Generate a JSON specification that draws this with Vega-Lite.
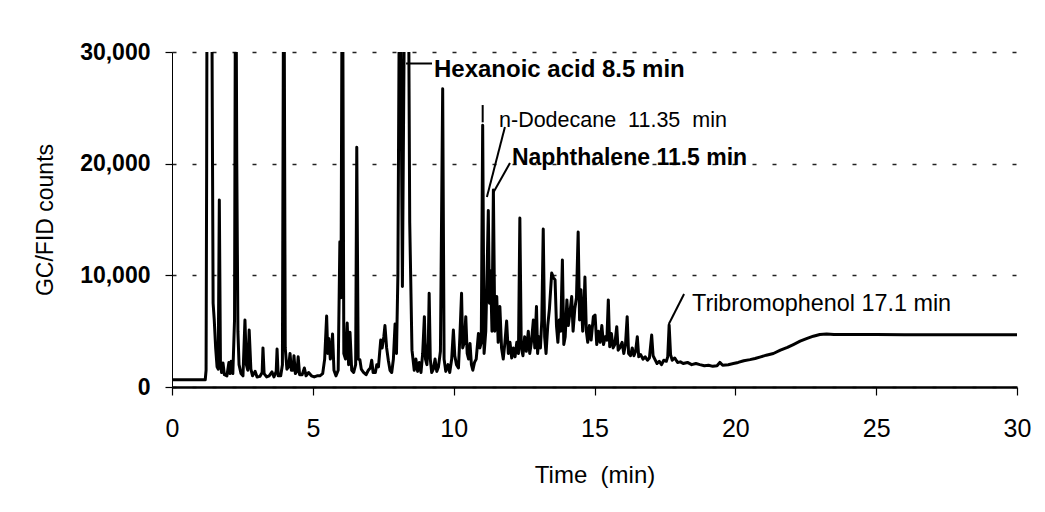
{
  "$schema": "https://vega.github.io/schema/vega-lite/v6.json",
  "width": 845,
  "height": 335,
  "autosize": {"type": "none"},
  "padding": {"left": 172, "top": 52, "right": 28, "bottom": 125},
  "background": "white",
  "config": {"view": {"stroke": null}, "font": "Liberation Sans"},
  "datasets": {
    "gc": [
      {"t":0,"c":650},{"t":1.18,"c":650},{"t":1.21,"c":1500},{"t":1.23,"c":19600},{"t":1.25,"c":45000},{"t":1.30,"c":36000},{"t":1.35,"c":45000},{"t":1.40,"c":45000},{"t":1.43,"c":25000},{"t":1.46,"c":7500},{"t":1.50,"c":6000},{"t":1.55,"c":3500},{"t":1.60,"c":1800},{"t":1.64,"c":1600},{"t":1.68,"c":16740},{"t":1.72,"c":2200},{"t":1.76,"c":1300},{"t":1.81,"c":2150},{"t":1.86,"c":1100},{"t":1.95,"c":1000},{"t":2.02,"c":2200},{"t":2.06,"c":1200},{"t":2.10,"c":2300},{"t":2.16,"c":1200},{"t":2.22,"c":6000},{"t":2.26,"c":45000},{"t":2.30,"c":20000},{"t":2.34,"c":5000},{"t":2.38,"c":2000},{"t":2.45,"c":1200},{"t":2.52,"c":1000},{"t":2.59,"c":6000},{"t":2.64,"c":2000},{"t":2.69,"c":1500},{"t":2.74,"c":5100},{"t":2.80,"c":1600},{"t":2.86,"c":1000},{"t":2.95,"c":1400},{"t":3.02,"c":900},{"t":3.12,"c":950},{"t":3.20,"c":1300},{"t":3.23,"c":3500},{"t":3.27,"c":1200},{"t":3.36,"c":900},{"t":3.45,"c":1000},{"t":3.55,"c":1350},{"t":3.62,"c":900},{"t":3.70,"c":1400},{"t":3.73,"c":3400},{"t":3.77,"c":1000},{"t":3.86,"c":1000},{"t":3.92,"c":2000},{"t":3.97,"c":45000},{"t":4.02,"c":3500},{"t":4.08,"c":1600},{"t":4.14,"c":1800},{"t":4.19,"c":3000},{"t":4.24,"c":1500},{"t":4.30,"c":1500},{"t":4.33,"c":2800},{"t":4.38,"c":1200},{"t":4.44,"c":1400},{"t":4.48,"c":2700},{"t":4.53,"c":1100},{"t":4.62,"c":1100},{"t":4.70,"c":1700},{"t":4.76,"c":1000},{"t":4.85,"c":1300},{"t":4.95,"c":1000},{"t":5.05,"c":900},{"t":5.15,"c":1000},{"t":5.25,"c":1000},{"t":5.35,"c":1200},{"t":5.42,"c":2500},{"t":5.49,"c":6350},{"t":5.53,"c":3000},{"t":5.57,"c":4350},{"t":5.62,"c":2500},{"t":5.66,"c":3000},{"t":5.70,"c":4750},{"t":5.75,"c":1500},{"t":5.82,"c":1000},{"t":5.90,"c":1500},{"t":5.96,"c":13000},{"t":6.00,"c":8000},{"t":6.05,"c":45000},{"t":6.10,"c":3000},{"t":6.16,"c":2500},{"t":6.22,"c":5730},{"t":6.27,"c":2000},{"t":6.32,"c":4900},{"t":6.38,"c":1500},{"t":6.45,"c":1300},{"t":6.52,"c":2000},{"t":6.56,"c":21480},{"t":6.61,"c":2500},{"t":6.67,"c":2450},{"t":6.72,"c":1600},{"t":6.80,"c":1300},{"t":6.89,"c":1100},{"t":6.97,"c":1500},{"t":7.04,"c":1700},{"t":7.09,"c":2400},{"t":7.14,"c":1300},{"t":7.22,"c":1300},{"t":7.27,"c":2000},{"t":7.33,"c":1800},{"t":7.41,"c":4200},{"t":7.46,"c":3500},{"t":7.52,"c":4500},{"t":7.56,"c":5500},{"t":7.62,"c":3500},{"t":7.68,"c":2400},{"t":7.74,"c":1500},{"t":7.80,"c":1300},{"t":7.86,"c":2500},{"t":7.92,"c":5650},{"t":7.97,"c":3000},{"t":8.02,"c":10000},{"t":8.09,"c":45000},{"t":8.18,"c":9000},{"t":8.28,"c":45000},{"t":8.38,"c":45000},{"t":8.44,"c":14700},{"t":8.52,"c":3300},{"t":8.60,"c":1500},{"t":8.66,"c":2500},{"t":8.72,"c":1400},{"t":8.78,"c":2200},{"t":8.84,"c":1300},{"t":8.90,"c":3000},{"t":8.96,"c":6300},{"t":9.00,"c":2500},{"t":9.05,"c":2000},{"t":9.10,"c":4000},{"t":9.13,"c":8400},{"t":9.17,"c":2500},{"t":9.22,"c":1300},{"t":9.28,"c":1600},{"t":9.34,"c":2500},{"t":9.40,"c":1400},{"t":9.46,"c":1800},{"t":9.53,"c":3200},{"t":9.61,"c":26700},{"t":9.66,"c":2500},{"t":9.72,"c":1400},{"t":9.80,"c":2000},{"t":9.86,"c":1300},{"t":9.93,"c":2500},{"t":9.99,"c":5100},{"t":10.04,"c":2800},{"t":10.10,"c":2000},{"t":10.17,"c":1700},{"t":10.22,"c":4500},{"t":10.28,"c":8400},{"t":10.32,"c":3500},{"t":10.38,"c":4000},{"t":10.43,"c":6300},{"t":10.48,"c":3000},{"t":10.53,"c":2500},{"t":10.58,"c":3900},{"t":10.63,"c":2000},{"t":10.68,"c":1500},{"t":10.74,"c":2200},{"t":10.80,"c":2500},{"t":10.88,"c":4800},{"t":10.93,"c":3500},{"t":10.98,"c":4000},{"t":11.03,"c":23450},{"t":11.08,"c":3000},{"t":11.14,"c":5000},{"t":11.19,"c":10700},{"t":11.23,"c":15800},{"t":11.27,"c":7500},{"t":11.31,"c":10400},{"t":11.36,"c":5000},{"t":11.41,"c":17640},{"t":11.46,"c":5000},{"t":11.50,"c":6500},{"t":11.53,"c":8100},{"t":11.58,"c":4000},{"t":11.64,"c":7200},{"t":11.70,"c":3500},{"t":11.76,"c":2500},{"t":11.82,"c":4000},{"t":11.88,"c":5900},{"t":11.94,"c":3000},{"t":12.00,"c":4000},{"t":12.06,"c":2600},{"t":12.12,"c":3500},{"t":12.18,"c":2700},{"t":12.24,"c":4000},{"t":12.30,"c":3000},{"t":12.35,"c":15130},{"t":12.40,"c":3500},{"t":12.46,"c":2800},{"t":12.52,"c":4500},{"t":12.58,"c":3200},{"t":12.65,"c":5000},{"t":12.70,"c":3000},{"t":12.76,"c":4000},{"t":12.83,"c":6000},{"t":12.88,"c":3500},{"t":12.94,"c":7200},{"t":12.98,"c":3000},{"t":13.03,"c":4500},{"t":13.08,"c":3500},{"t":13.13,"c":6000},{"t":13.18,"c":14140},{"t":13.23,"c":4500},{"t":13.28,"c":3000},{"t":13.34,"c":5500},{"t":13.40,"c":7000},{"t":13.48,"c":10200},{"t":13.54,"c":9800},{"t":13.60,"c":9600},{"t":13.65,"c":5500},{"t":13.70,"c":4000},{"t":13.75,"c":6000},{"t":13.80,"c":5000},{"t":13.86,"c":11370},{"t":13.91,"c":3800},{"t":13.96,"c":4500},{"t":14.02,"c":7800},{"t":14.07,"c":5500},{"t":14.12,"c":6500},{"t":14.19,"c":8100},{"t":14.24,"c":5000},{"t":14.30,"c":7000},{"t":14.36,"c":8000},{"t":14.42,"c":13870},{"t":14.47,"c":6000},{"t":14.52,"c":8700},{"t":14.58,"c":5000},{"t":14.62,"c":6500},{"t":14.66,"c":9850},{"t":14.71,"c":5000},{"t":14.76,"c":4000},{"t":14.82,"c":5500},{"t":14.88,"c":4200},{"t":14.96,"c":6300},{"t":15.02,"c":6450},{"t":15.08,"c":3800},{"t":15.14,"c":5000},{"t":15.20,"c":4000},{"t":15.26,"c":5500},{"t":15.32,"c":3800},{"t":15.38,"c":4500},{"t":15.44,"c":4200},{"t":15.49,"c":7800},{"t":15.54,"c":3600},{"t":15.60,"c":4800},{"t":15.66,"c":3500},{"t":15.72,"c":3800},{"t":15.79,"c":5400},{"t":15.84,"c":3300},{"t":15.90,"c":3500},{"t":15.98,"c":4000},{"t":16.04,"c":3000},{"t":16.10,"c":3800},{"t":16.16,"c":6300},{"t":16.21,"c":3000},{"t":16.28,"c":2800},{"t":16.34,"c":3500},{"t":16.40,"c":2800},{"t":16.46,"c":3200},{"t":16.52,"c":4500},{"t":16.57,"c":2700},{"t":16.64,"c":2900},{"t":16.72,"c":2500},{"t":16.80,"c":2700},{"t":16.88,"c":2400},{"t":16.95,"c":2600},{"t":17.03,"c":4650},{"t":17.08,"c":2800},{"t":17.14,"c":2500},{"t":17.22,"c":2100},{"t":17.30,"c":2300},{"t":17.38,"c":2000},{"t":17.46,"c":2400},{"t":17.55,"c":2300},{"t":17.60,"c":2700},{"t":17.65,"c":5550},{"t":17.70,"c":2900},{"t":17.76,"c":2400},{"t":17.85,"c":2600},{"t":17.95,"c":2200},{"t":18.05,"c":2250},{"t":18.15,"c":2100},{"t":18.30,"c":2200},{"t":18.45,"c":2000},{"t":18.60,"c":2100},{"t":18.74,"c":2000},{"t":18.90,"c":1900},{"t":19.05,"c":1950},{"t":19.20,"c":1850},{"t":19.35,"c":1900},{"t":19.45,"c":2200},{"t":19.55,"c":1950},{"t":19.75,"c":2000},{"t":19.93,"c":2100},{"t":20.10,"c":2200},{"t":20.30,"c":2350},{"t":20.52,"c":2450},{"t":20.70,"c":2550},{"t":20.90,"c":2700},{"t":21.10,"c":2850},{"t":21.35,"c":3000},{"t":21.60,"c":3300},{"t":21.85,"c":3550},{"t":22.06,"c":3800},{"t":22.30,"c":4100},{"t":22.55,"c":4350},{"t":22.77,"c":4550},{"t":23.00,"c":4700},{"t":23.24,"c":4750},{"t":23.50,"c":4700},{"t":24.00,"c":4700},{"t":25.00,"c":4700},{"t":26.00,"c":4680},{"t":27.00,"c":4680},{"t":28.00,"c":4680},{"t":29.00,"c":4670},{"t":30.00,"c":4670}
    ],
    "leaders": [
      {"t":8.31,"c":28970,"t2":9.23,"c2":28970},
      {"t":11.82,"c":23280,"t2":11.18,"c2":17010},
      {"t":12.0,"c":20060,"t2":11.4,"c2":17370},
      {"t":18.18,"c":8330,"t2":17.64,"c2":5640},
      {"t":11.03,"c":23700,"t2":11.03,"c2":25250}
    ]
  },
  "encoding": {
    "x": {
      "field": "t",
      "type": "quantitative",
      "scale": {"domain": [0, 30], "nice": false},
      "axis": {
        "values": [0, 5, 10, 15, 20, 25, 30],
        "title": "Time\u00a0 (min)",
        "grid": false,
        "domainColor": "black",
        "domainWidth": 2.5,
        "tickColor": "black",
        "tickSize": 8,
        "tickWidth": 1.2,
        "labelFontSize": 25,
        "labelColor": "black",
        "labelPadding": 21,
        "labelFlush": false,
        "titleFontSize": 24,
        "titleFontWeight": "normal",
        "titleColor": "black",
        "titlePadding": 22
      }
    },
    "y": {
      "field": "c",
      "type": "quantitative",
      "scale": {"domain": [0, 30000], "nice": false},
      "axis": {
        "values": [0, 10000, 20000, 30000],
        "format": ",.0f",
        "title": "GC/FID counts",
        "grid": true,
        "gridColor": "#222222",
        "gridDash": [4, 16],
        "gridWidth": 1.5,
        "domainColor": "black",
        "domainWidth": 1,
        "tickColor": "black",
        "tickSize": 7,
        "tickWidth": 1.2,
        "labelFontSize": 23,
        "labelFontWeight": "bold",
        "labelColor": "black",
        "labelPadding": 15,
        "titleFontSize": 23,
        "titleFontWeight": "normal",
        "titleColor": "black",
        "titlePadding": 22
      }
    }
  },
  "layer": [
    {
      "data": {"name": "gc"},
      "mark": {"type": "line", "color": "black", "strokeWidth": 3, "clip": true, "strokeJoin": "round"}
    },
    {
      "data": {"name": "leaders"},
      "mark": {"type": "rule", "color": "black", "strokeWidth": 2},
      "encoding": {"x2": {"field": "t2"}, "y2": {"field": "c2"}}
    },
    {
      "data": {"values": [{"t": 9.3, "c": 27760, "label": "Hexanoic acid 8.5 min"}]},
      "mark": {"type": "text", "align": "left", "baseline": "alphabetic", "fontSize": 24, "fontWeight": "bold", "color": "black"},
      "encoding": {"text": {"field": "label"}}
    },
    {
      "data": {"values": [{"t": 12.07, "c": 19880, "label": "Naphthalene 11.5 min"}]},
      "mark": {"type": "text", "align": "left", "baseline": "alphabetic", "fontSize": 23, "fontWeight": "bold", "color": "black"},
      "encoding": {"text": {"field": "label"}}
    },
    {
      "data": {"values": [{"t": 11.61, "c": 23280, "label": "n-Dodecane\u00a0 11.35\u00a0 min"}]},
      "mark": {"type": "text", "align": "left", "baseline": "alphabetic", "fontSize": 21.5, "fontWeight": "normal", "color": "black"},
      "encoding": {"text": {"field": "label"}}
    },
    {
      "data": {"values": [{"t": 18.46, "c": 6806, "label": "Tribromophenol 17.1 min"}]},
      "mark": {"type": "text", "align": "left", "baseline": "alphabetic", "fontSize": 23.4, "fontWeight": "normal", "color": "black"},
      "encoding": {"text": {"field": "label"}}
    }
  ]
}
